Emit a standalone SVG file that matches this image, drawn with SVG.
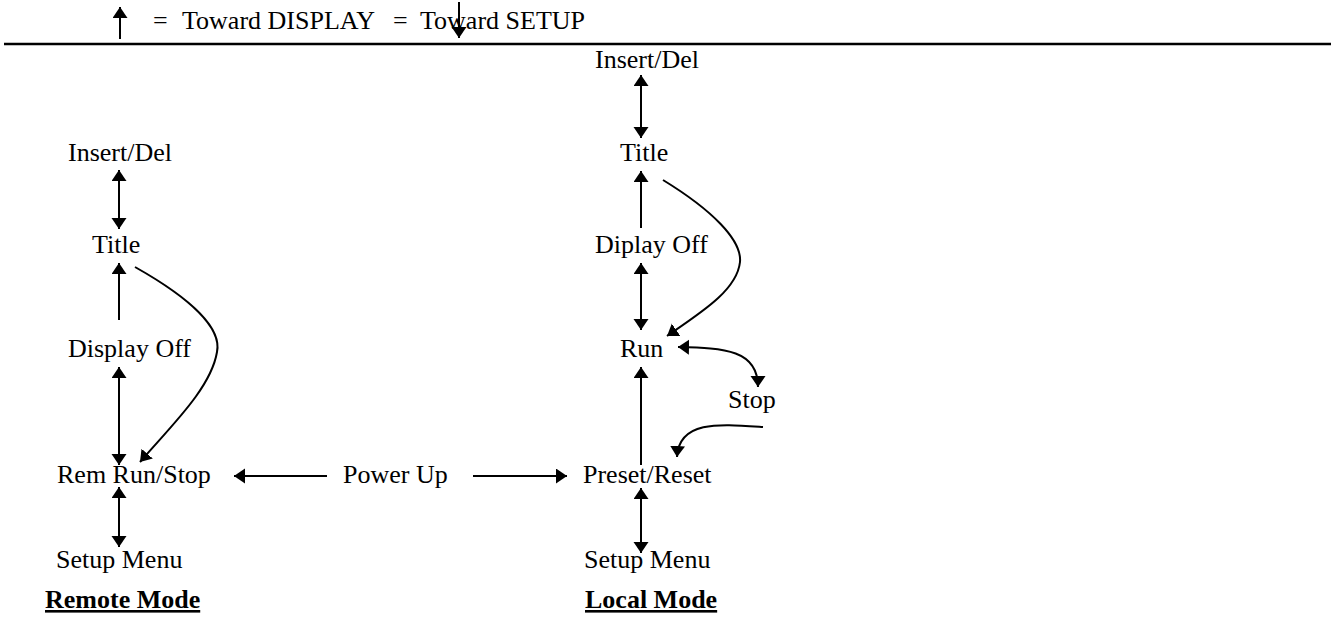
<svg xmlns="http://www.w3.org/2000/svg" width="1331" height="618" viewBox="0 0 1331 618">
  <style>
    text { font-family: "Liberation Serif", "Times New Roman", serif; font-size: 26px; fill: #000; }
    .mode { font-weight: bold; text-decoration: underline; }
    .wire { fill: none; stroke: #000; stroke-width: 2; }
  </style>
  <defs>
    <marker id="head" markerUnits="userSpaceOnUse" markerWidth="12" markerHeight="16" refX="11" refY="7.5" orient="auto-start-reverse">
      <path d="M0,0 L11,7.5 L0,15 z" fill="#000"/>
    </marker>
  </defs>
  <rect width="1331" height="618" fill="#fff"/>

  <!-- legend -->
  <g id="legend">
    <line class="wire" x1="120" y1="39" x2="120" y2="7" marker-end="url(#head)"/>
    <text y="29"><tspan x="153">=</tspan><tspan x="182">Toward DISPLAY</tspan><tspan x="393">=</tspan><tspan x="420">Toward SETUP</tspan></text>
    <line class="wire" x1="459" y1="2" x2="459" y2="38" marker-end="url(#head)"/>
    <line x1="4" y1="44" x2="1331" y2="44" stroke="#000" stroke-width="2.5"/>
  </g>

  <!-- remote mode column -->
  <g id="r-insert"><text x="68" y="161">Insert/Del</text></g>
  <g id="r-title"><text x="92" y="253">Title</text></g>
  <g id="r-display"><text x="68" y="357">Display Off</text></g>
  <g id="r-remrun"><text x="57" y="483">Rem Run/Stop</text></g>
  <g id="r-setup"><text x="56" y="568">Setup Menu</text></g>
  <g id="r-label"><text class="mode" x="45" y="608">Remote Mode</text></g>

  <!-- power up -->
  <g id="powerup"><text x="343" y="483">Power Up</text></g>

  <!-- local mode column -->
  <g id="l-insert"><text x="595" y="68">Insert/Del</text></g>
  <g id="l-title"><text x="620" y="161">Title</text></g>
  <g id="l-display"><text x="595" y="253">Diplay Off</text></g>
  <g id="l-run"><text x="620" y="357">Run</text></g>
  <g id="l-stop"><text x="728" y="408">Stop</text></g>
  <g id="l-preset"><text x="583" y="483">Preset/Reset</text></g>
  <g id="l-setup"><text x="584" y="568">Setup Menu</text></g>
  <g id="l-label"><text class="mode" x="585" y="608">Local Mode</text></g>

  <g id="connectors">
    <!-- remote -->
    <line class="wire" x1="119" y1="170" x2="119" y2="229" marker-start="url(#head)" marker-end="url(#head)"/>
    <line class="wire" x1="119" y1="320" x2="119" y2="263" marker-end="url(#head)"/>
    <path class="wire" d="M135,267 C190,298 222,328 217,352 C211,388 172,425 140,462" marker-end="url(#head)"/>
    <line class="wire" x1="119" y1="367" x2="119" y2="465" marker-start="url(#head)" marker-end="url(#head)"/>
    <line class="wire" x1="119" y1="487" x2="119" y2="547" marker-start="url(#head)" marker-end="url(#head)"/>

    <!-- power up -->
    <line class="wire" x1="327" y1="476" x2="234" y2="476" marker-end="url(#head)"/>
    <line class="wire" x1="473" y1="476" x2="567" y2="476" marker-end="url(#head)"/>

    <!-- local -->
    <line class="wire" x1="641" y1="75" x2="641" y2="138" marker-start="url(#head)" marker-end="url(#head)"/>
    <line class="wire" x1="641" y1="228" x2="641" y2="171" marker-end="url(#head)"/>
    <path class="wire" d="M663,180 C712,210 742,240 740,262 C737,290 702,312 667,336" marker-end="url(#head)"/>
    <line class="wire" x1="641" y1="263" x2="641" y2="330" marker-start="url(#head)" marker-end="url(#head)"/>
    <path class="wire" d="M678,347 C725,348 758,350 758,387" marker-start="url(#head)" marker-end="url(#head)"/>
    <path class="wire" d="M763,427 C720,424 679,420 677,457" marker-end="url(#head)"/>
    <line class="wire" x1="641" y1="465" x2="641" y2="367" marker-end="url(#head)"/>
    <line class="wire" x1="641" y1="488" x2="641" y2="553" marker-start="url(#head)" marker-end="url(#head)"/>
  </g>
</svg>
